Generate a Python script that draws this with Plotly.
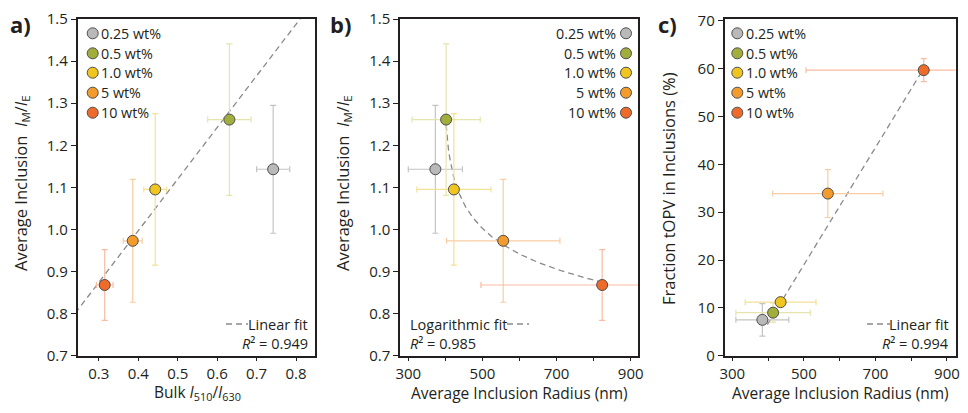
import numpy as np
import plotly.graph_objects as go

# ---------------- data ----------------
labels = ["0.25 wt%", "0.5 wt%", "1.0 wt%", "5 wt%", "10 wt%"]
marker_colors = ["#b9b9b9", "#a2ae3c", "#f0c520", "#f39b2c", "#ee6b29"]
error_colors = ["#c4c4c4", "#e6e4ae", "#f3e296", "#f9cda4", "#f9bca0"]

# panel a
bulk_ratio = [0.742, 0.631, 0.443, 0.386, 0.315]
bulk_ratio_err = [0.042, 0.055, 0.029, 0.024, 0.021]
inclusion_ratio = [1.143, 1.261, 1.095, 0.973, 0.868]
inclusion_ratio_err = [0.152, 0.180, 0.180, 0.146, 0.084]
lin_a_slope, lin_a_icpt = 1.227, 0.506

# panel b
radius_b = [373, 402, 423, 556, 823]
radius_b_err = [73, 92, 100, 153, 327]
log_b_a, log_b_b, log_b_x0 = 1.426, -0.091, 395.0

# panel c
radius_c = [384, 414, 435, 567, 835]
radius_c_err = [74, 104, 99, 154, 329]
fraction_topv = [7.5, 9.0, 11.2, 33.9, 59.7]
fraction_topv_err = [3.4, 2.0, 1.0, 5.0, 2.4]
lin_c_slope, lin_c_icpt = 0.1226, -42.3

# figure sized to fit inside the page's 8px body margin without scrollbars
W, H = 952, 397
OFF = 8
FONT = "Open Sans"
TXT = "#231f20"


def px(x):
    return (x - OFF) / W


def py(y):
    return 1 - (y - OFF) / H


fig = go.Figure()

FIT_LINE = dict(color="#8a8a8a", width=1.3, dash="6px,4px")

# fit lines first (below markers)
xa = np.array([0.24, 0.86])
fig.add_trace(go.Scatter(x=xa, y=lin_a_slope * xa + lin_a_icpt, mode="lines",
                         line=FIT_LINE, xaxis="x", yaxis="y", showlegend=False))
xb = np.linspace(radius_b[1], 822, 200)
fig.add_trace(go.Scatter(x=xb, y=log_b_a + log_b_b * np.log(xb - log_b_x0), mode="lines",
                         line=FIT_LINE, xaxis="x2", yaxis="y2", showlegend=False))
xc = np.array([398, 827])
fig.add_trace(go.Scatter(x=xc, y=lin_c_slope * xc + lin_c_icpt, mode="lines",
                         line=FIT_LINE, xaxis="x3", yaxis="y3", showlegend=False))


def add_points(xs, xerr, ys, yerr, xa_, ya_):
    for i in range(len(labels)):
        fig.add_trace(go.Scatter(
            x=[xs[i]], y=[ys[i]], mode="markers", xaxis=xa_, yaxis=ya_, showlegend=False,
            marker=dict(size=11, color=marker_colors[i], line=dict(color="#4d4d4d", width=1)),
            error_x=dict(type="data", array=[xerr[i]], color=error_colors[i], thickness=1.2, width=3),
            error_y=dict(type="data", array=[yerr[i]], color=error_colors[i], thickness=1.2, width=3),
        ))


add_points(bulk_ratio, bulk_ratio_err, inclusion_ratio, inclusion_ratio_err, "x", "y")
add_points(radius_b, radius_b_err, inclusion_ratio, inclusion_ratio_err, "x2", "y2")
add_points(radius_c, radius_c_err, fraction_topv, fraction_topv_err, "x3", "y3")

ax_common = dict(showline=True, linecolor="#231f20", linewidth=1.5, mirror=True,
                 ticks="outside", ticklen=5, tickwidth=1.3, tickcolor="#231f20",
                 showgrid=False, zeroline=False, automargin=False,
                 tickfont=dict(family=FONT, size=15, color=TXT))
x_common = dict(ax_common, ticklen=4)

ydom = [py(355.7), py(19)]
fig.update_layout(
    template="none",
    width=W, height=H,
    margin=dict(l=0, r=0, t=0, b=0, autoexpand=False),
    paper_bgcolor="white", plot_bgcolor="white",
    showlegend=False,
    font=dict(family=FONT, color=TXT),
    xaxis=dict(domain=[px(77.5), px(315)], range=[0.246, 0.848], anchor="y",
               tickvals=[0.3, 0.4, 0.5, 0.6, 0.7, 0.8], tickformat=".1f", **x_common),
    yaxis=dict(domain=ydom, range=[0.7, 1.5], anchor="x",
               tickvals=[0.7, 0.8, 0.9, 1.0, 1.1, 1.2, 1.3, 1.4, 1.5], tickformat=".1f", **ax_common),
    xaxis2=dict(domain=[px(400), px(638.3)], range=[277.6, 920.5], anchor="y2",
                tickvals=[300, 400, 500, 600, 700, 800, 900],
                ticktext=["300", "", "500", "", "700", "", "900"], **x_common),
    yaxis2=dict(domain=ydom, range=[0.7, 1.5], anchor="x2",
                tickvals=[0.7, 0.8, 0.9, 1.0, 1.1, 1.2, 1.3, 1.4, 1.5], tickformat=".1f", **ax_common),
    xaxis3=dict(domain=[px(724.5), px(955.5)], range=[278.2, 923.8], anchor="y3",
                tickvals=[300, 400, 500, 600, 700, 800, 900],
                ticktext=["300", "", "500", "", "700", "", "900"], **x_common),
    yaxis3=dict(domain=ydom, range=[0, 70.4], anchor="x3",
                tickvals=[0, 10, 20, 30, 40, 50, 60, 70], **ax_common),
)

annotations = []
shapes = []


def text(x, y, s, size=15, xanchor="center", angle=0, bold=False, yanchor="middle"):
    if bold:
        s = "<b>" + s + "</b>"
    annotations.append(dict(x=px(x), y=py(y), xref="paper", yref="paper", text=s,
                            showarrow=False, xanchor=xanchor, yanchor=yanchor,
                            textangle=angle, borderpad=0,
                            font=dict(family=FONT, size=size, color=TXT)))


# panel letters
text(20, 24, "a)", size=22, bold=True)
text(340, 24, "b)", size=22, bold=True)
text(667, 24, "c)", size=22, bold=True)

# axis titles
ytitle = "Average Inclusion  <i>I</i><sub>M</sub>/<i>I</i><sub>E</sub>"
text(21, 183, ytitle, size=16.5, angle=-90)
text(343, 183, ytitle, size=16.5, angle=-90)
text(668, 189, "Fraction tOPV in Inclusions (%)", size=16.5, angle=-90)
text(197, 405, "Bulk <i>I</i><sub>510</sub>/<i>I</i><sub>630</sub>", size=15.5, yanchor="bottom")
text(519, 405, "Average Inclusion Radius (nm)", size=15.5, yanchor="bottom")
text(840, 405, "Average Inclusion Radius (nm)", size=15.5, yanchor="bottom")

# legends
rows_y = [33.3, 53.3, 72.7, 92.7, 112.7]


def legend_marker(x, y, i):
    shapes.append(dict(type="circle", xref="paper", yref="paper",
                       xsizemode="pixel", ysizemode="pixel",
                       xanchor=px(x), yanchor=py(y), x0=-5.5, x1=5.5, y0=-5.5, y1=5.5,
                       fillcolor=marker_colors[i], line=dict(color="#4d4d4d", width=1)))


for i, lab in enumerate(labels):
    legend_marker(92.7, rows_y[i], i)
    text(100, rows_y[i], lab, size=14.3, xanchor="left")
    legend_marker(626, rows_y[i], i)
    text(617, rows_y[i], lab, size=14.3, xanchor="right")
    legend_marker(737.3, rows_y[i], i)
    text(745, rows_y[i], lab, size=14.3, xanchor="left")


# fit labels
def dash_sample(x0, x1, y):
    shapes.append(dict(type="line", xref="paper", yref="paper",
                       x0=px(x0), x1=px(x1), y0=py(y), y1=py(y),
                       line=FIT_LINE))


r2 = "<i>R</i>² = "
text(309, 324, "Linear fit", size=14.5, xanchor="right")
text(309, 343, r2 + "0.949", size=14.5, xanchor="right")
dash_sample(226, 248, 324)

text(409, 324, "Logarithmic fit", size=14.5, xanchor="left")
text(409, 343, r2 + "0.985", size=14.5, xanchor="left")
dash_sample(507, 529, 324)

text(950, 324, "Linear fit", size=14.5, xanchor="right")
text(950, 343, r2 + "0.994", size=14.5, xanchor="right")
dash_sample(867, 890, 324)

fig.update_layout(annotations=annotations, shapes=shapes)

fig.write_html("out.html")
